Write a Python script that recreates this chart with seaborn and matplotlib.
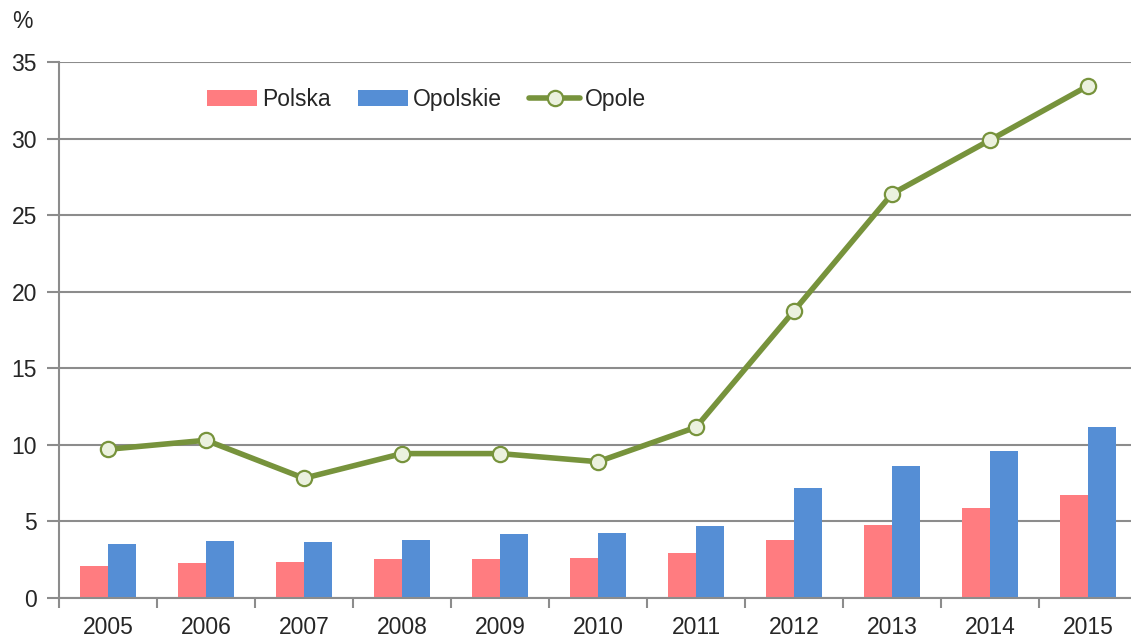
import numpy as np
import pandas as pd
import matplotlib
matplotlib.use("Agg")
import matplotlib.pyplot as plt
import seaborn as sns
from matplotlib.patches import Patch
from matplotlib.lines import Line2D

years = ["2005", "2006", "2007", "2008", "2009", "2010", "2011", "2012", "2013", "2014", "2015"]
polska = [2.12, 2.28, 2.38, 2.54, 2.56, 2.60, 2.93, 3.76, 4.74, 5.88, 6.73]
opolskie = [3.50, 3.72, 3.63, 3.81, 4.20, 4.24, 4.72, 7.19, 8.65, 9.62, 11.19]
opole = [9.71, 10.30, 7.82, 9.43, 9.43, 8.90, 11.15, 18.75, 26.39, 29.9, 33.44]
series_names = ["Polska", "Opolskie", "Opole"]
yticks = [0, 5, 10, 15, 20, 25, 30, 35]

c_pl = "#FF7C80"
c_op = "#558ED5"
c_line = "#77933C"
c_face = "#EBF1DE"
grid_c = "#8C8C8C"

sns.set_theme(style="white")
plt.rcParams["font.family"] = ["Liberation Sans", "DejaVu Sans"]

df = pd.DataFrame({
    "year": years * 2,
    "value": polska + opolskie,
    "series": [series_names[0]] * len(years) + [series_names[1]] * len(years),
})

fig = plt.figure(figsize=(11.31, 6.43), dpi=100)
ax = fig.add_axes([59 / 1131, 45 / 643, (1137 - 59) / 1131, (598 - 62) / 643])

sns.barplot(data=df, x="year", y="value", hue="series", order=years,
            hue_order=series_names[:2], palette=[c_pl, c_op], width=0.57,
            saturation=1, ax=ax, legend=False, errorbar=None, linewidth=0)
sns.lineplot(x=np.arange(len(years)), y=opole, ax=ax, color=c_line, linewidth=4,
             marker="o", markersize=11, markerfacecolor=c_face,
             markeredgecolor=c_line, markeredgewidth=1.6, zorder=5)

ax.set_ylim(0, 35)
ax.set_xlim(-0.5, len(years) - 0.5)
ax.set_yticks(yticks)
ax.set_yticklabels([str(t) for t in yticks], fontsize=16.5)
ax.yaxis.grid(True, color=grid_c, linewidth=1.5)
ax.set_axisbelow(True)
ax.set_xlabel("")
ax.set_ylabel("")
ax.tick_params(axis="y", length=9, width=1.5, color=grid_c, pad=7, direction="out", left=True)
ax.set_xticks(np.arange(len(years)))
ax.set_xticklabels(years, fontsize=16.5)
ax.set_xticks(np.arange(-0.5, len(years)), minor=True)
ax.tick_params(axis="x", which="major", length=0, pad=13)
ax.tick_params(axis="x", which="minor", length=7, width=1.5, color=grid_c, direction="out", bottom=True)
for s in ["top", "right"]:
    ax.spines[s].set_visible(False)
for s in ["left", "bottom"]:
    ax.spines[s].set_color(grid_c)
    ax.spines[s].set_linewidth(1.5)

handles = [
    Patch(facecolor=c_pl, edgecolor="none"),
    Patch(facecolor=c_op, edgecolor="none"),
    Line2D([0], [0], color=c_line, linewidth=4, marker="o", markersize=11,
           markerfacecolor=c_face, markeredgecolor=c_line, markeredgewidth=1.6),
]
ax.legend(handles, series_names, ncol=3, frameon=False, fontsize=16.5,
          loc="upper left", bbox_to_anchor=(0.118, 0.99), handlelength=2.2,
          handleheight=0.7, handletextpad=0.2, columnspacing=1.2)

fig.text(22 / 1131, 1 - 22 / 643, "%", fontsize=16.5, ha="center", va="center")

fig.savefig("out.png", dpi=100)
